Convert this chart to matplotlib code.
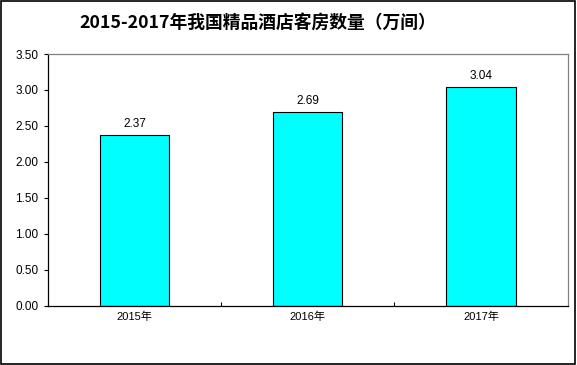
import matplotlib.pyplot as plt

plt.rcParams['font.family'] = ['Liberation Sans', 'Noto Sans CJK SC']

# data
years = ["2015年", "2016年", "2017年"]
rooms = [2.37, 2.69, 3.04]
yticks = [0, 0.5, 1, 1.5, 2, 2.5, 3, 3.5]

fig = plt.figure(figsize=(5.77, 3.65), dpi=100)
ax = fig.add_axes([0.083, 0.162, 0.901, 0.690])

x = range(len(years))
ax.bar(x, rooms, width=0.4, color="#00ffff", edgecolor="black", linewidth=0.8, zorder=2)
for i, v in zip(x, rooms):
    ax.text(i, v + 0.07, f"{v:.2f}", ha="center", va="bottom", fontsize=8.5)

ax.set_xlim(-0.5, 2.5)
ax.set_ylim(0, 3.5)
ax.set_yticks(yticks)
ax.set_yticklabels([f"{t:.2f}" for t in yticks], fontsize=8.5)
ax.tick_params(axis="y", direction="out", length=3, width=0.8, pad=4)

# category labels plus inward boundary ticks
ax.set_xticks([0.5, 1.5])
ax.set_xticklabels([])
ax.tick_params(axis="x", direction="in", length=3, width=0.8)
for i, lab in zip(x, years):
    ax.text(i, -0.08, lab, ha="center", va="top", fontsize=8)

ax.spines["left"].set_color("black")
ax.spines["bottom"].set_color("black")
ax.spines["top"].set_color("#808080")
ax.spines["right"].set_color("#808080")
for s in ax.spines.values():
    s.set_linewidth(0.9)

fig.text(0.447, 0.938, "2015-2017年我国精品酒店客房数量（万间）", ha="center", va="center",
         fontsize=12.8, fontweight="bold", family=["Noto Sans CJK SC", "DejaVu Sans"])

# outer frame
fig.patches.append(plt.Rectangle((0.001, 0.003), 0.996, 0.994, transform=fig.transFigure,
                                 fill=False, edgecolor="black", linewidth=1.2))

fig.savefig("out.png", dpi=100)
